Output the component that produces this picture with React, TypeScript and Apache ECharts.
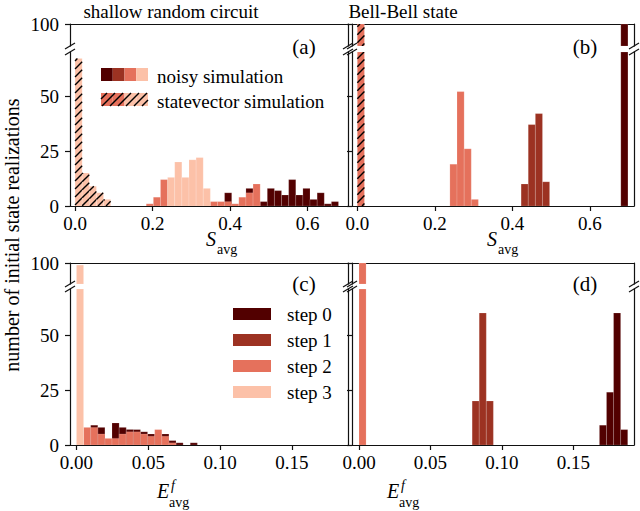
import React, { useEffect, useRef } from "react";
import * as echarts from "echarts";

// ---------------- data ----------------
const STEP_NAMES = ["step 0", "step 1", "step 2", "step 3"];
const S_TICKS = [0, 0.2, 0.4, 0.6];
const E_TICKS = [0, 0.05, 0.1, 0.15];
const COUNT_TICKS_LOW = [0, 25, 50];
const COUNT_TICKS_HIGH = [100];
const S_BIN_WIDTH = 0.68 / 37;
const E_BIN_WIDTH = 0.00495;

// (a) shallow random circuit, S_avg : index of first bin + counts per bin
const A_STEP0_FIRST = 21;
const A_STEP0 = [6, 0, 0, 8, 0, 2, 8, 7, 5, 12, 5, 8, 3, 6, 1, 2];
const A_STEP2_FIRST = 10;
const A_STEP2 = [1, 4, 12, 0, 0, 0, 0, 0, 0, 2, 2, 2, 1, 4, 6, 10];
const A_STEP3_FIRST = 13;
const A_STEP3 = [13, 20, 13, 21, 22, 8];
const A_STATEVEC_FIRST = 0;
const A_STATEVEC = [67, 15, 9, 6, 3];

// (b) Bell-Bell state, S_avg
const B_STEP0_FIRST = 37;
const B_STEP0 = [100];
const B_STEP1_FIRST = 23;
const B_STEP1 = [10, 37, 42, 11];
const B_STEP2_FIRST = 13;
const B_STEP2 = [19, 52, 26, 3];
const B_STATEVEC_FIRST = 0;
const B_STATEVEC = [100];

// (c) shallow random circuit, E^f_avg
const C_STEP0_FIRST = 2;
const C_STEP0 = [9, 8, 0, 10, 8, 7, 7, 6, 5, 0, 5, 2, 1, 0, 1];
const C_STEP2_FIRST = 1;
const C_STEP2 = [8, 8, 5, 3, 3, 5, 6, 6, 5, 4, 7, 4, 1];
const C_STEP3_FIRST = 0;
const C_STEP3 = [98];

// (d) Bell-Bell state, E^f_avg
const D_STEP0_FIRST = 34;
const D_STEP0 = [9, 24, 60, 7];
const D_STEP1_FIRST = 16;
const D_STEP1 = [20, 60, 20];
const D_STEP2_FIRST = 0;
const D_STEP2 = [100];

// ---------------- styles ----------------
const COLORS = ["#520000", "#9c3222", "#e5715c", "#fcc1a8"];
const FONT_FAMILY = "Liberation Serif";
const FS = 19;
const AXIS_COLOR = "#111";
const TOP_MIN = 80;
const TOP_MAX = 100;
const PX_PER_COUNT = 2.2;

type Hist = { first: number; counts: number[]; bin: number; color: string; hatched: boolean; name: string };

const bars = (h: Hist) =>
  h.counts
    .map((c, i) => [(h.first + i) * h.bin, (h.first + i + 1) * h.bin, c])
    .filter((d) => d[2] > 0);

function hatchLines(x0: number, y0: number, x1: number, y1: number, spacing = 8) {
  const out: any[] = [];
  const cStart = Math.ceil((x0 + y0) / spacing) * spacing;
  for (let c = cStart; c <= x1 + y1; c += spacing) {
    const xa = Math.max(x0, c - y1);
    const xb = Math.min(x1, c - y0);
    if (xb - xa > 0.4) {
      out.push({
        type: "line",
        shape: { x1: xa, y1: c - xa, x2: xb, y2: c - xb },
        style: { stroke: "#000", lineWidth: 1.4 },
      });
    }
  }
  return out;
}

const makeRender = (color: string, hatched: boolean) => (params: any, api: any) => {
  const x0 = api.value(0);
  const x1 = api.value(1);
  const v = api.value(2);
  const cs = params.coordSys;
  const pTop = api.coord([x0, v]);
  const pBase = api.coord([x1, 0]);
  const left = pTop[0];
  const right = pBase[0];
  const top = Math.max(pTop[1], cs.y);
  const bottom = Math.min(pBase[1], cs.y + cs.height);
  if (bottom - top <= 0) return null;
  const rect = {
    type: "rect",
    shape: { x: left, y: top, width: right - left, height: bottom - top },
    style: { fill: color, stroke: "rgba(255,255,255,0.3)", lineWidth: 0.5 },
  };
  if (!hatched) return rect;
  return { type: "group", children: [rect, ...hatchLines(left, top, right, bottom)] };
};

type Panel = {
  left: number;
  width: number;
  top: number;
  topH: number;
  gap: number;
  bottomH: number;
  xMin: number;
  xMax: number;
  ticks: number[];
  dec: number;
  yLabels: boolean;
  hists: Hist[];
};

const PANELS: Panel[] = [
  {
    left: 70, width: 278, top: 24, topH: 22, gap: 6, bottomH: 154,
    xMin: -0.013, xMax: 0.7045, ticks: S_TICKS, dec: 1, yLabels: true,
    hists: [
      { first: A_STEP0_FIRST, counts: A_STEP0, bin: S_BIN_WIDTH, color: COLORS[0], hatched: false, name: STEP_NAMES[0] },
      { first: A_STEP2_FIRST, counts: A_STEP2, bin: S_BIN_WIDTH, color: COLORS[2], hatched: false, name: STEP_NAMES[2] },
      { first: A_STEP3_FIRST, counts: A_STEP3, bin: S_BIN_WIDTH, color: COLORS[3], hatched: false, name: STEP_NAMES[3] },
      { first: A_STATEVEC_FIRST, counts: A_STATEVEC, bin: S_BIN_WIDTH, color: COLORS[3], hatched: true, name: "statevector" },
    ],
  },
  {
    left: 352, width: 282, top: 24, topH: 22, gap: 6, bottomH: 154,
    xMin: -0.0137, xMax: 0.714, ticks: S_TICKS, dec: 1, yLabels: false,
    hists: [
      { first: B_STEP0_FIRST, counts: B_STEP0, bin: S_BIN_WIDTH, color: COLORS[0], hatched: false, name: STEP_NAMES[0] },
      { first: B_STEP1_FIRST, counts: B_STEP1, bin: S_BIN_WIDTH, color: COLORS[1], hatched: false, name: STEP_NAMES[1] },
      { first: B_STEP2_FIRST, counts: B_STEP2, bin: S_BIN_WIDTH, color: COLORS[2], hatched: false, name: STEP_NAMES[2] },
      { first: B_STATEVEC_FIRST, counts: B_STATEVEC, bin: S_BIN_WIDTH, color: COLORS[2], hatched: true, name: "statevector" },
    ],
  },
  {
    left: 70, width: 278, top: 263, topH: 21, gap: 5, bottomH: 156,
    xMin: -0.0045, xMax: 0.189, ticks: E_TICKS, dec: 2, yLabels: true,
    hists: [
      { first: C_STEP0_FIRST, counts: C_STEP0, bin: E_BIN_WIDTH, color: COLORS[0], hatched: false, name: STEP_NAMES[0] },
      { first: C_STEP2_FIRST, counts: C_STEP2, bin: E_BIN_WIDTH, color: COLORS[2], hatched: false, name: STEP_NAMES[2] },
      { first: C_STEP3_FIRST, counts: C_STEP3, bin: E_BIN_WIDTH, color: COLORS[3], hatched: false, name: STEP_NAMES[3] },
    ],
  },
  {
    left: 352, width: 282, top: 263, topH: 21, gap: 5, bottomH: 156,
    xMin: -0.0049, xMax: 0.1925, ticks: E_TICKS, dec: 2, yLabels: false,
    hists: [
      { first: D_STEP0_FIRST, counts: D_STEP0, bin: E_BIN_WIDTH, color: COLORS[0], hatched: false, name: STEP_NAMES[0] },
      { first: D_STEP1_FIRST, counts: D_STEP1, bin: E_BIN_WIDTH, color: COLORS[1], hatched: false, name: STEP_NAMES[1] },
      { first: D_STEP2_FIRST, counts: D_STEP2, bin: E_BIN_WIDTH, color: COLORS[2], hatched: false, name: STEP_NAMES[2] },
    ],
  },
];

const lineStyle = { color: AXIS_COLOR, width: 1.2 };
const labelStyle = { fontSize: FS, fontFamily: FONT_FAMILY, color: "#000" };

function text(x: number, y: number, s: string, opts: any = {}) {
  return {
    type: "text",
    x,
    y,
    rotation: opts.rotation || 0,
    silent: true,
    style: {
      text: s,
      x: 0,
      y: 0,
      fill: "#000",
      fontFamily: FONT_FAMILY,
      fontSize: opts.size || FS,
      fontStyle: opts.italic ? "italic" : "normal",
      textAlign: opts.align || "left",
      textVerticalAlign: "middle",
    },
  };
}

function buildOption() {
  const grid: any[] = [];
  const xAxis: any[] = [];
  const yAxis: any[] = [];
  const series: any[] = [];
  const graphic: any[] = [];

  PANELS.forEach((p) => {
    const bottomTop = p.top + p.topH + p.gap;
    const yMax = p.bottomH / PX_PER_COUNT;
    // lower (main) part
    const gLow = grid.length;
    grid.push({ left: p.left, top: bottomTop, width: p.width, height: p.bottomH });
    xAxis.push({
      type: "value", gridIndex: gLow, min: p.xMin, max: p.xMax, position: "bottom",
      axisLine: { show: true, onZero: false, lineStyle },
      axisTick: { show: true, inside: false, length: 5, customValues: p.ticks, lineStyle },
      axisLabel: { show: true, customValues: p.ticks, margin: 8, formatter: (v: number) => v.toFixed(p.dec), ...labelStyle },
      splitLine: { show: false },
    });
    const yLowLeft = yAxis.length;
    yAxis.push({
      type: "value", gridIndex: gLow, min: 0, max: yMax, position: "left",
      axisLine: { show: true, onZero: false, lineStyle },
      axisTick: { show: true, inside: false, length: 5, customValues: COUNT_TICKS_LOW, lineStyle },
      axisLabel: { show: p.yLabels, customValues: COUNT_TICKS_LOW, margin: 11, ...labelStyle },
      splitLine: { show: false },
    });
    yAxis.push({
      type: "value", gridIndex: gLow, min: 0, max: yMax, position: "right",
      axisLine: { show: true, onZero: false, lineStyle },
      axisTick: { show: false }, axisLabel: { show: false }, splitLine: { show: false },
    });
    // upper (broken) part
    const gHigh = grid.length;
    grid.push({ left: p.left, top: p.top, width: p.width, height: p.topH });
    xAxis.push({
      type: "value", gridIndex: gHigh, min: p.xMin, max: p.xMax, position: "top",
      axisLine: { show: true, onZero: false, lineStyle },
      axisTick: { show: false }, axisLabel: { show: false }, splitLine: { show: false },
    });
    const yHighLeft = yAxis.length;
    yAxis.push({
      type: "value", gridIndex: gHigh, min: TOP_MIN, max: TOP_MAX, position: "left",
      axisLine: { show: true, onZero: false, lineStyle },
      axisTick: { show: true, inside: false, length: 5, customValues: COUNT_TICKS_HIGH, lineStyle },
      axisLabel: { show: p.yLabels, customValues: COUNT_TICKS_HIGH, margin: 11, ...labelStyle },
      splitLine: { show: false },
    });
    yAxis.push({
      type: "value", gridIndex: gHigh, min: TOP_MIN, max: TOP_MAX, position: "right",
      axisLine: { show: true, onZero: false, lineStyle },
      axisTick: { show: false }, axisLabel: { show: false }, splitLine: { show: false },
    });

    p.hists.forEach((h) => {
      const data = bars(h);
      series.push({
        type: "custom", name: h.name, xAxisIndex: gLow, yAxisIndex: yLowLeft, clip: true, silent: true,
        itemStyle: { color: h.color }, renderItem: makeRender(h.color, h.hatched),
        encode: { x: [0, 1], y: 2 }, data,
      });
      const high = data.filter((d) => d[2] > TOP_MIN);
      if (high.length) {
        series.push({
          type: "custom", name: h.name, xAxisIndex: gHigh, yAxisIndex: yHighLeft, clip: true, silent: true,
          itemStyle: { color: h.color }, renderItem: makeRender(h.color, h.hatched),
          encode: { x: [0, 1], y: 2 }, data: high,
        });
      }
    });

    // break marks on both spines
    const gapTop = p.top + p.topH;
    [p.left, p.left + p.width].forEach((X) => {
      [gapTop, bottomTop].forEach((Y) => {
        graphic.push({
          type: "line", silent: true,
          shape: { x1: X - 5, y1: Y + 3, x2: X + 5, y2: Y - 3 },
          style: { stroke: AXIS_COLOR, lineWidth: 1.2 },
        });
      });
    });
  });

  // titles
  graphic.push(text(171, 11, "shallow random circuit", { align: "center" }));
  graphic.push(text(403, 11, "Bell-Bell state", { align: "center" }));
  // y label
  graphic.push(text(12, 235, "number of initial state realizations", { align: "center", rotation: Math.PI / 2, size: 20 }));
  // panel letters
  graphic.push(text(304, 47, "(a)", { align: "center", size: 21 }));
  graphic.push(text(585, 47, "(b)", { align: "center", size: 21 }));
  graphic.push(text(304, 284, "(c)", { align: "center", size: 21 }));
  graphic.push(text(585, 284, "(d)", { align: "center", size: 21 }));
  // x-axis names
  [206, 487].forEach((x) => {
    graphic.push(text(x, 239, "S", { italic: true, size: 20 }));
    graphic.push(text(x + 11, 249, "avg", { size: 14 }));
  });
  [157, 387].forEach((x) => {
    graphic.push(text(x, 491, "E", { italic: true, size: 20 }));
    graphic.push(text(x + 14, 485, "f", { italic: true, size: 14 }));
    graphic.push(text(x + 12, 502, "avg", { size: 14 }));
  });

  // legend (a)
  const cellW = 11.75;
  COLORS.forEach((c, i) => {
    graphic.push({ type: "rect", silent: true, shape: { x: 101 + i * cellW, y: 68, width: cellW, height: 13 }, style: { fill: c } });
  });
  [COLORS[2], COLORS[2], COLORS[3], COLORS[3]].forEach((c, i) => {
    graphic.push({ type: "rect", silent: true, shape: { x: 101 + i * cellW, y: 93, width: cellW, height: 13 }, style: { fill: c } });
  });
  hatchLines(101, 93, 101 + 4 * cellW, 106).forEach((l) => graphic.push({ ...l, silent: true }));
  graphic.push(text(157, 76, "noisy simulation"));
  graphic.push(text(157, 101, "statevector simulation"));

  // legend (c)
  STEP_NAMES.forEach((n, i) => {
    graphic.push({ type: "rect", silent: true, shape: { x: 233, y: 308 + 26 * i, width: 38, height: 12 }, style: { fill: COLORS[i] } });
    graphic.push(text(287, 314 + 26 * i, n));
  });

  return {
    animation: false,
    backgroundColor: "#fff",
    grid,
    xAxis,
    yAxis,
    series,
    graphic,
  };
}

export default function App() {
  const ref = useRef<HTMLDivElement>(null);
  useEffect(() => {
    if (!ref.current) return;
    const chart = echarts.init(ref.current, null, { renderer: "svg" });
    chart.setOption(buildOption() as any);
    return () => chart.dispose();
  }, []);
  return (
    <div
      ref={ref}
      style={{ position: "fixed", left: 0, top: 0, width: 640, height: 511, background: "#fff" }}
    />
  );
}
